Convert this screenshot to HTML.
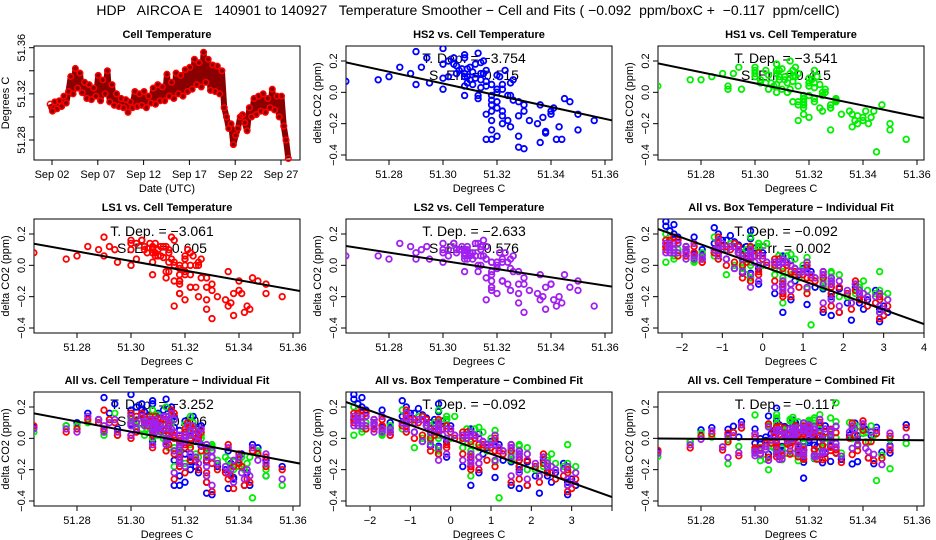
<!DOCTYPE html>
<html><head><meta charset="utf-8"><style>
html,body{margin:0;padding:0;background:#fff;}
svg{display:block;font-family:"Liberation Sans",sans-serif;}
</style></head><body>
<svg id="chart" width="936" height="540" viewBox="0 0 936 540">
<text x="468" y="15" text-anchor="middle" font-size="14" xml:space="preserve">HDP   AIRCOA E   140901 to 140927   Temperature Smoother − Cell and Fits ( −0.092  ppm/boxC +  −0.117  ppm/cellC)</text>
</svg>
<script>
// ---- data ----
const startDay = 1.8;
const stepDay = 0.25;
const cellTemp = [51.311,51.305,51.313,51.307,51.314,
51.309,51.318,51.312,51.322, 51.335,51.320,51.342,51.325, 51.338,51.321,51.330,51.316,
51.328,51.315,51.325,51.318, 51.336,51.314,51.332,51.320, 51.340,51.313,51.328,51.310,
51.320,51.309,51.316,51.308, 51.315,51.304,51.313,51.308, 51.322,51.309,51.320,51.310,
51.322,51.308,51.318,51.312, 51.325,51.311,51.328,51.314, 51.326,51.314,51.337,51.318,
51.330,51.316,51.338,51.320, 51.336,51.318,51.341,51.322, 51.343,51.324,51.350,51.328,
51.347,51.326,51.356,51.330, 51.350,51.323,51.345,51.322, 51.344,51.320,51.340,51.308,
51.300,51.290,51.294,51.276, 51.284,51.290,51.300,51.302, 51.295,51.288,51.308,51.300,
51.316,51.302,51.318,51.305, 51.320,51.304,51.316,51.308, 51.324,51.306,51.318,51.300,
51.318,51.292,51.280,51.264];
const boxTemp = [-0.3,-2.4,-0.1,-1.1,-0.4,
-0.6,-0.3,-1.7,-0.1, 2.4,0.3,1.9,-0.5, 1.1,-0.6,1.7,-2.3,
1.5,-1.1,-0.7,0.5, 1.7,-1.1,0.5,0.4, 2.3,-2.4,0.9,-1.7,
0.8,-0.7,-0.9,-0.3, -0.4,-2.1,1.1,-1.9, 1.7,-1.9,2.9,-2.3,
0.4,-1.2,0.5,-0.3, 0.7,-0.6,2.2,0.7, -0.5,-0.8,2.8,0.5,
0.7,-1.5,3.0,-0.2, 1.5,0.3,1.7,-1.7, 2.6,1.1,0.5,2.5,
-0.3,0.0,2.9,2.9, 2.1,-2.1,1.2,1.9, 1.5,0.6,2.3,-0.1,
-2.3,-0.3,-2.3,-1.1, -1.0,-2.2,0.1,-2.2,
0.5,-1.9,1.0,-2.4, 1.3,-1.5,2.4,-0.3,
0.8,-2.3,3.1,-1.5, 1.7,-1.2,1.5,-1.9,
0.3,-0.9,-0.5,-1.7];
const deltaHS2 = [0.05,0.12,-0.02,0.15,0.08,
0.10,-0.05,0.18,-0.12, -0.20,0.02,-0.30,0.06, -0.25,0.10,-0.08,0.14, -0.15,0.20,-0.02,0.05,
-0.32,0.12,-0.18,0.00, -0.14,0.25,-0.06,0.08, -0.10,0.15,0.04,0.22, 0.12,0.18,-0.04,0.10,
-0.20,0.06,-0.28,0.16, 0.02,0.24,-0.12,0.09, -0.22,0.13,-0.35,0.03, -0.05,0.19,-0.16,-0.30,
-0.12,0.07,-0.26,0.11, -0.08,-0.18,-0.10,0.05, -0.22,-0.02,-0.14,-0.28, -0.06,0.08,-0.18,-0.36,
-0.24,0.14,-0.04,-0.15, -0.30,0.02,-0.12,0.12, 0.18,0.05,0.22,0.08, 0.16,0.26,0.02,0.20,
0.06,0.12,-0.02,0.28, -0.14,0.10,-0.24,0.17, -0.06,0.22,-0.30,0.04, -0.18,0.14,-0.08,0.09,
-0.02,0.16,0.10,0.07];
const deltaHS1 = [0.08,0.02,0.12,0.04,-0.06,
0.10,-0.08,0.06,0.14, -0.12,0.04,-0.20,-0.02, -0.15,0.08,-0.05,0.12, -0.10,0.16,0.00,-0.04,
-0.22,0.10,-0.14,0.06, -0.18,0.20,-0.08,0.02, 0.04,0.14,-0.06,0.18, 0.10,0.06,0.02,0.12,
-0.04,0.08,-0.16,0.15, 0.06,0.18,-0.10,0.00, -0.12,0.10,-0.24,0.07, 0.02,0.14,-0.18,-0.08,
-0.06,0.04,-0.20,0.09, -0.14,-0.02,-0.12,0.03, -0.16,0.05,-0.24,-0.10, -0.08,0.00,-0.30,-0.04,
-0.20,0.10,-0.38,-0.06, -0.12,0.06,-0.16,0.14, 0.12,0.02,0.16,0.08, 0.10,0.04,0.14,0.06,
0.02,0.12,0.00,0.16, -0.08,0.08,-0.14,0.11, -0.02,0.14,-0.18,0.05, -0.10,0.06,-0.04,0.10,
-0.06,0.12,0.08,0.04];
const deltaLS1 = [0.06,0.10,-0.04,0.14,0.02,
0.08,-0.10,0.12,-0.06, -0.22,0.04,-0.30,0.00, -0.18,0.10,-0.12,0.16, -0.08,0.18,0.02,-0.02,
-0.26,0.08,-0.20,0.04, -0.10,0.12,-0.14,0.06, -0.06,0.14,0.00,0.10, 0.04,0.16,-0.08,0.12,
-0.14,0.06,-0.22,0.10, 0.00,0.08,-0.18,0.05, -0.20,0.12,-0.28,-0.04, -0.08,0.10,-0.24,-0.12,
-0.16,0.02,-0.32,0.06, -0.04,-0.10,-0.18,0.08, -0.26,0.00,-0.12,-0.22, -0.10,0.04,-0.20,-0.34,
-0.18,0.06,-0.08,-0.14, -0.28,0.00,-0.16,0.08, 0.14,0.06,0.10,0.04, 0.12,0.18,0.00,0.14,
0.02,0.10,-0.06,0.16, -0.10,0.04,-0.18,0.12, -0.04,0.16,-0.26,0.02, -0.14,0.08,-0.06,0.10,
0.00,0.12,0.06,0.08];
const deltaLS2 = [0.04,0.08,0.00,0.12,0.06,
0.10,-0.06,0.14,-0.10, -0.18,0.02,-0.26,0.04, -0.14,0.08,-0.08,0.12, -0.12,0.16,-0.02,0.02,
-0.22,0.10,-0.16,0.00, -0.12,0.14,-0.04,0.06, -0.02,0.12,0.04,0.08, 0.06,0.14,-0.04,0.10,
-0.10,0.04,-0.18,0.08, 0.02,0.10,-0.14,0.06, -0.16,0.08,-0.24,0.00, -0.04,0.12,-0.20,-0.10,
-0.12,0.04,-0.28,0.02, -0.06,-0.14,-0.22,0.04, -0.20,0.02,-0.10,-0.18, -0.14,0.06,-0.26,-0.30,
-0.16,0.08,-0.06,-0.10, -0.24,0.02,-0.12,0.06, 0.10,0.04,0.12,0.06, 0.14,0.08,0.02,0.10,
0.04,0.12,-0.04,0.14, -0.08,0.06,-0.16,0.10, -0.02,0.14,-0.22,0.04, -0.12,0.10,-0.04,0.08,
0.02,0.10,0.04,0.06];
const fitSlopes = [-3.754,-3.541,-3.061,-2.633,-0.092,-3.252,-0.092,-0.117];
const fitErrors = ["0.515","0.415","0.605","0.576","0.002","0.206","",""];
const dateTickDays = [2,7,12,17,22,27];
const dateTickLabels = ["Sep 02","Sep 07","Sep 12","Sep 17","Sep 22","Sep 27"];
const tempTicks = [51.28,51.30,51.32,51.34,51.36];
const cellYTicks = [51.28,51.30,51.32,51.34,51.36];
const cellYLabels = ["51.28","","51.32","","51.36"];
const co2Ticks = [-0.4,-0.2,0.0,0.2];
const boxTicks = [-2,-1,0,1,2,3,4];

// ---- drawing ----
const NS = "http://www.w3.org/2000/svg";
const svg = document.getElementById('chart');
function mk(tag, attrs, parent){ const e=document.createElementNS(NS,tag); for(const k in attrs) e.setAttribute(k,attrs[k]); (parent||svg).appendChild(e); return e; }
const COLORS = {HS2:"#0000ff",HS1:"#00ee00",LS1:"#ff0000",LS2:"#a020f0"};
const W=266, H=114;
function panelBox(c,r){ return {l:34+312*c, t:46+173*r}; }
function linScale(d0,d1,p0,p1){ return v=>p0+(v-d0)/(d1-d0)*(p1-p0); }

function drawFrame(g,b,title,xs,xticks,xlabels,ys,yticks,ylabels,xTitle,yTitle,name){
  const t=mk('text',{x:b.l+W/2,y:b.t-8,'text-anchor':'middle','font-size':11,'font-weight':'bold'},g); t.textContent=title;
  
  
  const fr=mk('rect',{x:b.l,y:b.t,width:W,height:H,fill:'none',stroke:'#000','stroke-width':1},g);
  
  
  const xa=mk('g',{},g);
  
  
  xticks.forEach((v,i)=>{ const x=xs(v); if(x<b.l-0.5||x>b.l+W+0.5) return;
    mk('line',{x1:x,x2:x,y1:b.t+H,y2:b.t+H+5,stroke:'#000'},xa);
    if(xlabels[i]){ const tx=mk('text',{x:x,y:b.t+H+18,'text-anchor':'middle','font-size':11},xa); tx.textContent=xlabels[i]; }
  });
  const xt=mk('text',{x:b.l+W/2,y:b.t+H+32,'text-anchor':'middle','font-size':11},xa); xt.textContent=xTitle;
  const ya=mk('g',{},g);
  
  
  yticks.forEach((v,i)=>{ const y=ys(v);
    mk('line',{x1:b.l-5,x2:b.l,y1:y,y2:y,stroke:'#000'},ya);
    if(ylabels[i]){ const ty=mk('text',{x:b.l-9,y:y,'text-anchor':'middle','font-size':11,transform:`rotate(-90 ${b.l-9} ${y})`},ya); ty.textContent=ylabels[i]; }
  });
  const yt=mk('text',{x:b.l-25,y:b.t+H/2,'text-anchor':'middle','font-size':11,transform:`rotate(-90 ${b.l-25} ${b.t+H/2})`},ya); yt.textContent=yTitle;
}
function clipFor(b,id){ const cp=mk('clipPath',{id:id}); mk('rect',{x:b.l,y:b.t,width:W,height:H},cp); return `url(#${id})`; }
function mean(a){ let s=0; a.forEach(v=>s+=v); return s/a.length; }

// Panel 1: cell temperature time series
(function(){
  const b=panelBox(0,0);
  const g=mk('g',{});  
  const xs=linScale(2,27,52,281), ys=linScale(51.28,51.36,140,47.7);
  drawFrame(g,b,'Cell Temperature',xs,dateTickDays,dateTickLabels,ys,cellYTicks,cellYLabels,'Date (UTC)','Degrees C','cell-temperature');
  const pts=cellTemp.map((v,i)=>[xs(startDay+i*stepDay),ys(v)]);
  const pl=mk('polyline',{points:pts.map(p=>p.join(',')).join(' '),fill:'none',stroke:'#8a0000','stroke-width':6,'stroke-linejoin':'round'},g);
  
  
  pts.forEach(p=>{ const c=mk('circle',{cx:p[0],cy:p[1],r:2.8,fill:'none',stroke:'#ff0000','stroke-width':1.5},g);
    
     });
})();

const tempFmt = tempTicks.map(v=>v.toFixed(2));
const co2Fmt = co2Ticks.map(v=>v.toFixed(1).replace('-','−'));
const boxFmt = boxTicks.map(v=>String(v).replace('-','−'));

function scatterPanel(c,r,title,name,seriesList,xKey,slope,err,hideLast){
  const b=panelBox(c,r);
  const g=mk('g',{});  
  const isBox = xKey==='box';
  const xs = isBox ? linScale(-2,4,b.l+24,b.l+W) : linScale(51.28,51.36,b.l+43,b.l+259);
  const ys = linScale(0.2,-0.4,b.t+15,b.t+109);
  const xl = isBox ? boxFmt.map((s,i)=> hideLast && i===boxFmt.length-1 ? '' : s) : tempFmt;
  drawFrame(g,b,title,xs,isBox?boxTicks:tempTicks,xl,ys,co2Ticks,co2Fmt,'Degrees C','delta CO2 (ppm)',name);
  const cx=b.l+128;
  const t1=mk('text',{x:cx,y:b.t+17,'text-anchor':'middle','font-size':14},g); t1.textContent='T. Dep. =  '+String(slope).replace('-','−');
   
  if(err){ const t2=mk('text',{x:cx,y:b.t+34,'text-anchor':'middle','font-size':14},g); t2.textContent='S. Err. =  '+err;
      }
  const clip=clipFor(b,name+'-clip');
  const pg=mk('g',{'clip-path':clip},g);
   
  let allX=[], allY=[];
  seriesList.forEach(s=>{
    const n=Math.min(s.y.length, s.x.length);
    for(let i=0;i<n;i++){
      allX.push(s.x[i]); allY.push(s.y[i]);
      const p=mk('circle',{cx:xs(s.x[i]),cy:ys(s.y[i]),r:2.8,fill:'none',stroke:s.color,'stroke-width':1.8},pg);
      
      
    }
  });
  const mx=mean(allX), my=mean(allY);
  const x0 = isBox?-2.6:51.2635, x1 = isBox?4.05:51.3628;
  const ln=mk('line',{x1:xs(x0),y1:ys(my+slope*(x0-mx)),x2:xs(x1),y2:ys(my+slope*(x1-mx)),stroke:'#000','stroke-width':2},pg);
  
  
}
const S = (nm,x,y)=>({name:nm,x:x,y:y,color:COLORS[nm]});
const resid = (d)=>d.map((v,i)=>v+0.092*boxTemp[i]);
const allCell=[S('HS2',cellTemp,deltaHS2),S('HS1',cellTemp,deltaHS1),S('LS1',cellTemp,deltaLS1),S('LS2',cellTemp,deltaLS2)];
const allBox=[S('HS2',boxTemp,deltaHS2),S('HS1',boxTemp,deltaHS1),S('LS1',boxTemp,deltaLS1),S('LS2',boxTemp,deltaLS2)];
const allResid=[S('HS2',cellTemp,resid(deltaHS2)),S('HS1',cellTemp,resid(deltaHS1)),S('LS1',cellTemp,resid(deltaLS1)),S('LS2',cellTemp,resid(deltaLS2))];

scatterPanel(1,0,'HS2 vs. Cell Temperature','hs2',[allCell[0]],'cell',fitSlopes[0],fitErrors[0]);
scatterPanel(2,0,'HS1 vs. Cell Temperature','hs1',[allCell[1]],'cell',fitSlopes[1],fitErrors[1]);
scatterPanel(0,1,'LS1 vs. Cell Temperature','ls1',[allCell[2]],'cell',fitSlopes[2],fitErrors[2]);
scatterPanel(1,1,'LS2 vs. Cell Temperature','ls2',[allCell[3]],'cell',fitSlopes[3],fitErrors[3]);
scatterPanel(2,1,'All vs. Box Temperature − Individual Fit','all-box-individual',allBox,'box',fitSlopes[4],fitErrors[4],false);
scatterPanel(0,2,'All vs. Cell Temperature − Individual Fit','all-cell-individual',allCell,'cell',fitSlopes[5],fitErrors[5]);
scatterPanel(1,2,'All vs. Box Temperature − Combined Fit','all-box-combined',allBox,'box',fitSlopes[6],fitErrors[6],true);
scatterPanel(2,2,'All vs. Cell Temperature − Combined Fit','all-cell-combined',allResid,'cell',fitSlopes[7],fitErrors[7]);
</script>
</body></html>
